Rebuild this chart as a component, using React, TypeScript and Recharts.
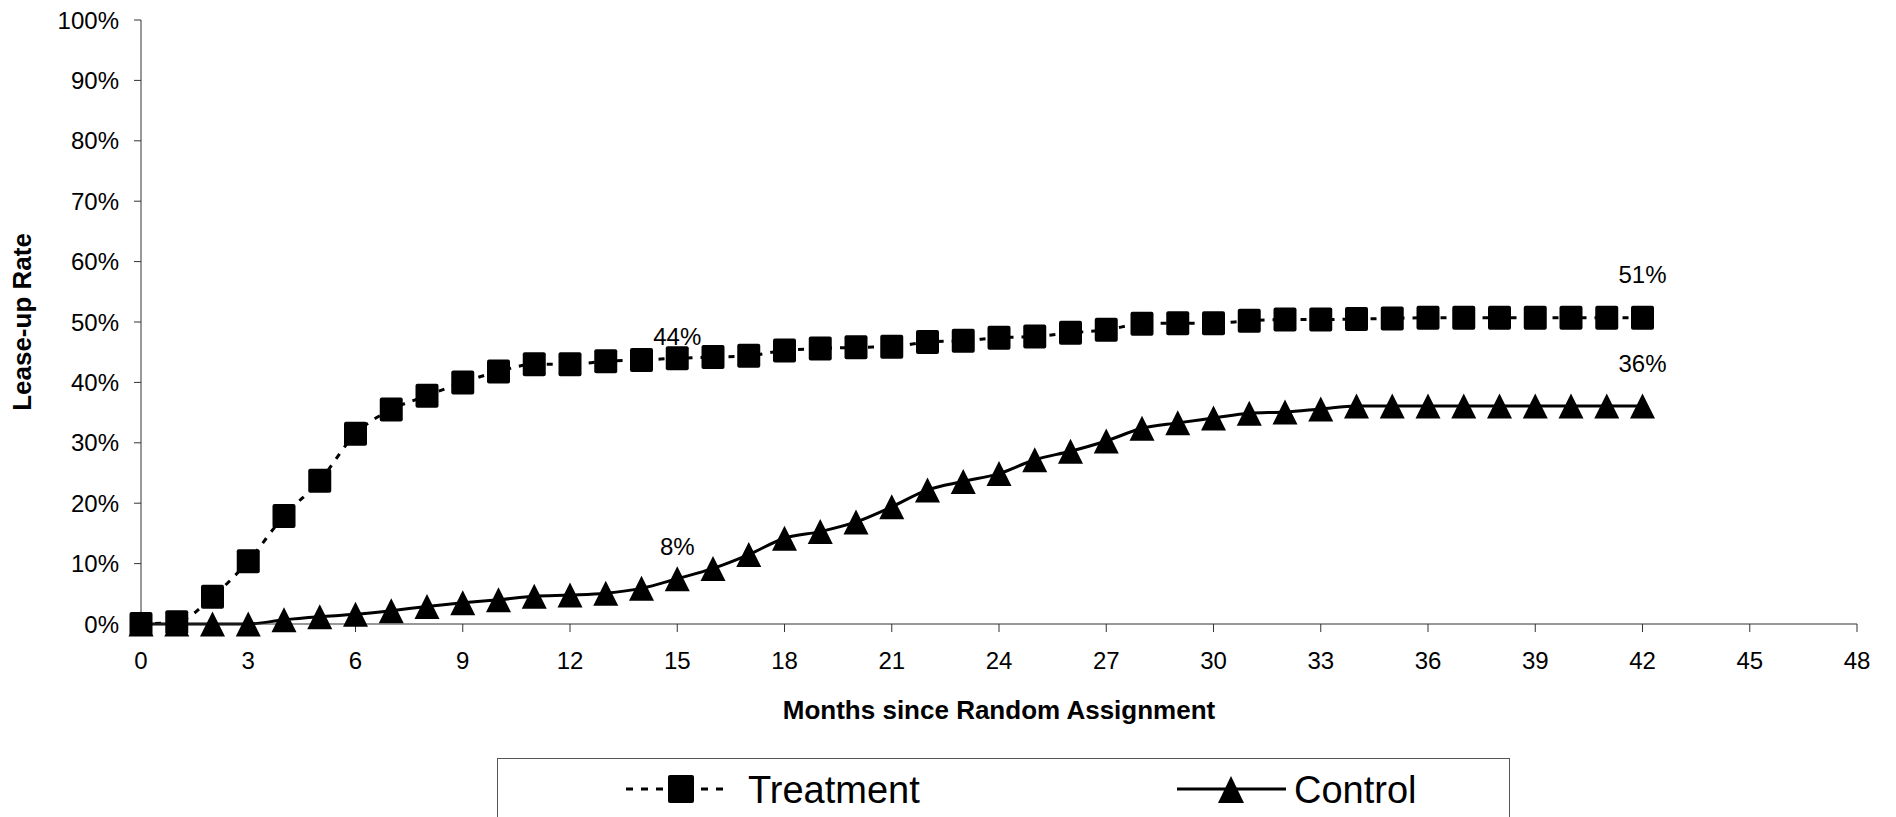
import React from 'react';
import { LineChart, Line, XAxis, YAxis, Legend } from 'recharts';

const months = [
  0, 1, 2, 3, 4, 5, 6, 7, 8, 9, 10, 11, 12, 13, 14, 15, 16, 17, 18, 19, 20,
  21, 22, 23, 24, 25, 26, 27, 28, 29, 30, 31, 32, 33, 34, 35, 36, 37, 38, 39, 40, 41, 42,
];
const treatment = [
  0, 0.3, 4.5, 10.4, 17.9, 23.7, 31.5, 35.5, 37.8, 40.0, 41.8, 43.0, 43.0, 43.5, 43.7, 44.0,
  44.2, 44.4, 45.3, 45.6, 45.8, 45.9, 46.7, 46.9, 47.4, 47.6, 48.2, 48.7, 49.7, 49.8, 49.8,
  50.2, 50.4, 50.4, 50.5, 50.6, 50.7, 50.7, 50.7, 50.7, 50.7, 50.7, 50.7,
];
const control = [
  0, 0, 0, 0, 0.7, 1.2, 1.6, 2.2, 2.9, 3.5, 4.0, 4.6, 4.8, 5.1, 5.9, 7.5, 9.2, 11.5, 14.2,
  15.3, 16.9, 19.4, 22.2, 23.6, 24.9, 27.2, 28.6, 30.3, 32.4, 33.3, 34.1, 34.9, 35.1, 35.6,
  36.1, 36.1, 36.1, 36.1, 36.1, 36.1, 36.1, 36.1, 36.1,
];
const xTicks = [0, 3, 6, 9, 12, 15, 18, 21, 24, 27, 30, 33, 36, 39, 42, 45, 48];
const yTicks = [0, 10, 20, 30, 40, 50, 60, 70, 80, 90, 100];
const labeledMonths = [15, 42];
const seriesNames = ['Treatment', 'Control'];
const xTitle = 'Months since Random Assignment';
const yTitle = 'Lease-up Rate';

const data = months.map((m, i) => ({ month: m, treatment: treatment[i], control: control[i] }));

const FONT = '"Liberation Sans", Arial, sans-serif';
const AXIS_COLOR = '#333';

// vertical offsets of value labels above their points (style only)
const treatLabelOffset: Record<number, number> = { 15: 22, 42: 43 };
const ctrlLabelOffset: Record<number, number> = { 15: 32, 42: 42 };

const SquareDot = (props: any) => {
  const { cx, cy, index } = props;
  if (cx == null || cy == null) return <g key={`s-${index}`} />;
  return <rect key={`s-${index}`} x={cx - 11.5} y={cy - 12} width={23} height={24} rx={2} fill="#000" />;
};

const TriangleDot = (props: any) => {
  const { cx, cy, index } = props;
  if (cx == null || cy == null) return <g key={`t-${index}`} />;
  return (
    <polygon
      key={`t-${index}`}
      points={`${cx},${cy - 12.5} ${cx - 12.5},${cy + 12.5} ${cx + 12.5},${cy + 12.5}`}
      fill="#000"
    />
  );
};

const makeValueLabel = (offsets: Record<number, number>, key: string) => (props: any) => {
  const { x, y, index, value } = props;
  const m = months[index];
  if (!labeledMonths.includes(m)) return <g key={`${key}-${index}`} />;
  return (
    <text
      key={`${key}-${index}`}
      x={x}
      y={y - offsets[m]}
      textAnchor="middle"
      dominantBaseline="central"
      fontSize={24}
      fontFamily={FONT}
      fill="#000"
    >
      {`${Math.round(value)}%`}
    </text>
  );
};

const XTitle = (props: any) => {
  const vb = props.viewBox || {};
  return (
    <text
      x={vb.x + vb.width / 2}
      y={vb.y + 86}
      textAnchor="middle"
      dominantBaseline="central"
      fontSize={26}
      fontWeight="bold"
      fontFamily={FONT}
      fill="#000"
    >
      {xTitle}
    </text>
  );
};

const YTitle = (props: any) => {
  const vb = props.viewBox || {};
  const cx = 22;
  const cy = vb.y + vb.height / 2;
  return (
    <text
      x={cx}
      y={cy}
      transform={`rotate(-90 ${cx} ${cy})`}
      textAnchor="middle"
      dominantBaseline="central"
      fontSize={26}
      fontWeight="bold"
      fontFamily={FONT}
      fill="#000"
    >
      {yTitle}
    </text>
  );
};

const LegendBox = () => (
  <div
    style={{
      width: 1013,
      height: 80,
      borderTop: '1px solid #555',
      borderLeft: '1px solid #555',
      borderRight: '1px solid #555',
      boxSizing: 'border-box',
      background: '#fff',
    }}
  >
    <svg width={1011} height={79} style={{ display: 'block' }}>
      <line x1={128} x2={226} y1={30} y2={30} stroke="#000" strokeWidth={3} strokeDasharray="7 8" />
      <rect x={170} y={16} width={26} height={28} rx={2} fill="#000" />
      <text x={250} y={44} fontSize={38} fontFamily={FONT} fill="#000">
        {seriesNames[0]}
      </text>
      <line x1={679} x2={788} y1={30} y2={30} stroke="#000" strokeWidth={3} />
      <polygon points={`733,17 720,44 746,44`} fill="#000" />
      <text x={796} y={44} fontSize={38} fontFamily={FONT} fill="#000">
        {seriesNames[1]}
      </text>
    </svg>
  </div>
);

export default function App() {
  return (
    <div
      style={{
        position: 'absolute',
        left: 0,
        top: 0,
        width: 1896,
        height: 817,
        overflow: 'hidden',
        background: '#fff',
        fontFamily: FONT,
      }}
    >
      <LineChart
        width={1896}
        height={817}
        data={data}
        margin={{ top: 20, right: 39, left: 0, bottom: 0 }}
      >
        <XAxis
          dataKey="month"
          type="number"
          domain={[0, 48]}
          ticks={xTicks}
          interval={0}
          height={193}
          stroke={AXIS_COLOR}
          tickSize={8}
          tickMargin={20}
          tick={{ fontSize: 24, fill: '#000', fontFamily: FONT }}
          label={(p: any) => <XTitle {...p} />}
        />
        <YAxis
          type="number"
          domain={[0, 100]}
          ticks={yTicks}
          interval={0}
          width={141}
          stroke={AXIS_COLOR}
          tickSize={7}
          tickMargin={15}
          tickFormatter={(v: number) => `${v}%`}
          tick={{ fontSize: 24, fill: '#000', fontFamily: FONT }}
          label={(p: any) => <YTitle {...p} />}
        />
        <Legend
          verticalAlign="middle"
          layout="horizontal"
          content={() => <LegendBox />}
          wrapperStyle={{ position: 'absolute', left: 497, top: 758, width: 1013, height: 80 }}
        />
        <Line
          dataKey="control"
          name={seriesNames[1]}
          type="monotone"
          stroke="#000"
          strokeWidth={3}
          dot={TriangleDot}
          activeDot={false}
          isAnimationActive={false}
          label={makeValueLabel(ctrlLabelOffset, 'cl')}
        />
        <Line
          dataKey="treatment"
          name={seriesNames[0]}
          type="monotone"
          stroke="#000"
          strokeWidth={3}
          strokeDasharray="6 8"
          dot={SquareDot}
          activeDot={false}
          isAnimationActive={false}
          label={makeValueLabel(treatLabelOffset, 'tl')}
        />
      </LineChart>
    </div>
  );
}
